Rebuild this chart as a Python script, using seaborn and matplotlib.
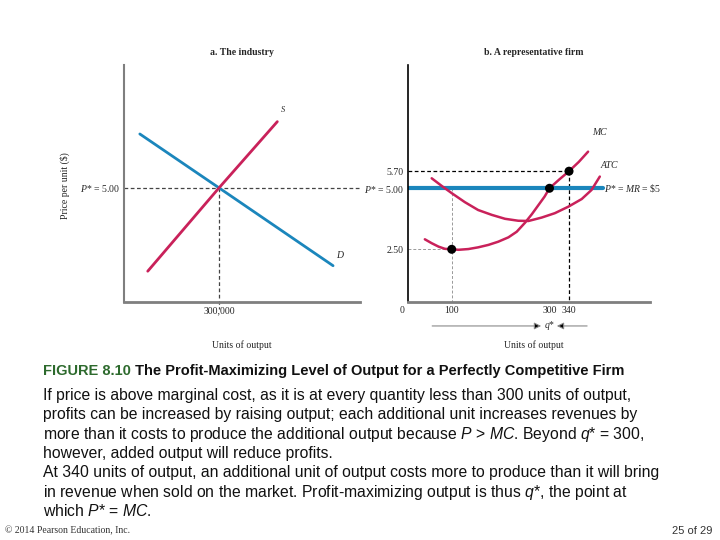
import matplotlib
matplotlib.use("Agg")
import matplotlib.pyplot as plt
from matplotlib import transforms
import seaborn as sns

# panel a: the industry (quantity in thousands of units, price in $)
supply_q = [75, 300, 484]
supply_p = [1.35, 5.00, 7.90]
demand_q = [50, 300, 660]
demand_p = [7.36, 5.00, 1.59]
industry_q = 300
industry_p = 5.00

# panel b: a representative firm
mc_q = [45, 59, 73, 86, 100, 114, 134, 154, 175, 195, 216, 233, 250, 264, 277, 290, 300,
        320, 340, 360, 379]
mc_p = [2.91, 2.75, 2.61, 2.52, 2.50, 2.48, 2.51, 2.58, 2.68, 2.81, 2.99, 3.22, 3.59, 3.94,
        4.30, 4.66, 5.00, 5.36, 5.70, 6.08, 6.50]
atc_q = [59, 80, 100, 127, 154, 182, 209, 236, 257, 284, 311, 339, 366, 386, 403]
atc_p = [5.41, 5.09, 4.80, 4.43, 4.11, 3.91, 3.75, 3.67, 3.66, 3.80, 3.98, 4.25, 4.56, 4.93, 5.48]
firm_q = [100, 300, 340]
firm_p = [2.50, 5.00, 5.70]
mr_q = [10.6, 410]
mr_p = [5.00, 5.00]

body_lines = [
    "If price is above marginal cost, as it is at every quantity less than 300 units of output,",
    "profits can be increased by raising output; each additional unit increases revenues by",
    r"more than it costs to produce the additional output because $\mathsf{P}$ > $\mathsf{MC}$. Beyond $\mathsf{q}$* = 300,",
    "however, added output will reduce profits.",
    "At 340 units of output, an additional unit of output costs more to produce than it will bring",
    r"in revenue when sold on the market. Profit-maximizing output is thus $\mathsf{q}$*, the point at",
    r"which $\mathsf{P}$* = $\mathsf{MC}$.",
]

sns.set_style("white")
plt.rcParams["font.family"] = ["Liberation Serif", "DejaVu Serif"]
plt.rcParams["mathtext.fontset"] = "custom"
plt.rcParams["mathtext.rm"] = "Liberation Serif"
plt.rcParams["mathtext.it"] = "Liberation Serif:italic"
plt.rcParams["mathtext.sf"] = "Liberation Sans:italic"

RED = "#c9215a"
BLUE = "#1b86bc"
AXGRAY = "#7f7f7f"
DASH = (0, (3, 2))

fig = plt.figure(figsize=(7.2, 5.4), dpi=100)
ax_a = fig.add_axes([0.1722, 0.4407, 0.3278, 0.4389])
ax_b = fig.add_axes([0.5667, 0.4407, 0.3361, 0.4389])

for ax in (ax_a, ax_b):
    sns.despine(ax=ax)
    ax.tick_params(length=0, labelsize=7, pad=3)
    ax.spines["bottom"].set_color(AXGRAY)
    ax.spines["bottom"].set_linewidth(2)
ax_a.spines["left"].set_color(AXGRAY)
ax_a.spines["left"].set_linewidth(1.5)
ax_b.spines["left"].set_color("black")
ax_b.spines["left"].set_linewidth(1.2)

# ---- panel a
ax_a.set_xlim(0, 745)
ax_a.set_ylim(0, 10.38)
ax_a.plot([0, 745], [industry_p, industry_p], ls=DASH, color="#444", lw=0.9, clip_on=False)
ax_a.plot([industry_q, industry_q], [industry_p, -0.3], ls=DASH, color="#444", lw=0.9, clip_on=False)
sns.lineplot(x=demand_q, y=demand_p, ax=ax_a, color=BLUE, lw=2, estimator=None)
sns.lineplot(x=supply_q, y=supply_p, ax=ax_a, color=RED, lw=2, estimator=None)
ax_a.set_xticks([industry_q], ["300,000"])
ax_a.set_yticks([industry_p], ["$P$* = 5.00"])
ax_a.text(496, 8.32, "S", fontsize=6, style="italic")
ax_a.text(669, 1.94, "D", fontsize=7, style="italic")
ax_a.text(0.5, 1.051, "a. The industry", transform=ax_a.transAxes, ha="center", va="center",
          fontsize=7, fontweight="bold")
ax_a.text(0.5, -0.181, "Units of output", transform=ax_a.transAxes, ha="center", va="center", fontsize=7)

# ---- panel b
ax_b.set_xlim(10.6, 505.7)
ax_b.set_ylim(0.34, 10.05)
ax_b.plot([10.6, 340], [5.70, 5.70], ls=DASH, color="black", lw=0.9)
ax_b.plot([340, 340], [5.70, 0.34], ls=DASH, color="black", lw=0.9)
ax_b.plot([10.6, 100], [2.50, 2.50], ls=DASH, color="#999", lw=0.7)
ax_b.plot([100, 100], [5.00, 0.34], ls=DASH, color="#999", lw=0.7)
sns.lineplot(x=mr_q, y=mr_p, ax=ax_b, color=BLUE, lw=3, estimator=None)
sns.lineplot(x=atc_q, y=atc_p, ax=ax_b, color=RED, lw=1.8, estimator=None, sort=False)
sns.lineplot(x=mc_q, y=mc_p, ax=ax_b, color=RED, lw=1.8, estimator=None, sort=False)
sns.scatterplot(x=firm_q, y=firm_p, ax=ax_b, color="black", s=42, edgecolor="none", zorder=5)
ax_b.set_xticks(firm_q, ["100", "300", "340"])
ax_b.set_yticks(firm_p, ["2.50", "$P$* = 5.00", "5.70"])
ax_b.text(-0.025, -0.017, "0", transform=ax_b.transAxes, ha="center", va="top", fontsize=7)
ax_b.text(387, 7.18, "MC", fontsize=7, style="italic")
ax_b.text(405, 5.83, "ATC", fontsize=7, style="italic")
ax_b.text(412, 5.0, r"$P$* = $MR$ = \$5", fontsize=7, va="center", clip_on=False)
ax_b.text(0.52, 1.051, "b. A representative firm", transform=ax_b.transAxes, ha="center", va="center",
          fontsize=7, fontweight="bold")
ax_b.text(0.52, -0.181, "Units of output", transform=ax_b.transAxes, ha="center", va="center", fontsize=7)

# q* arrows
trans = transforms.blended_transform_factory(ax_b.transData, ax_b.transAxes)
arrow = dict(arrowstyle="-|>", fc="black", ec="#8a8a8a", lw=0.8, mutation_scale=10, shrinkA=0, shrinkB=0)
ax_b.annotate("", xy=(283, -0.101), xytext=(60, -0.101), xycoords=trans, textcoords=trans,
              arrowprops=arrow, annotation_clip=False)
ax_b.annotate("", xy=(315, -0.101), xytext=(377, -0.101), xycoords=trans, textcoords=trans,
              arrowprops=arrow, annotation_clip=False)
ax_b.text(300, -0.101, "$q$*", transform=trans, ha="center", va="center", fontsize=7)

fig.text(65 / 720, 1 - 186 / 540, "Price per unit ($)", rotation=90, ha="center", va="center", fontsize=7)

# caption and notes
cap = fig.text(43 / 720, 1 - 375 / 540, "FIGURE 8.10", family="Liberation Sans", fontweight="bold",
               fontsize=10.5, color="#2d6a2d", va="baseline")
ax_a.annotate(" The Profit-Maximizing Level of Output for a Perfectly Competitive Firm",
              xy=(1, 0), xycoords=cap, va="bottom", ha="left", family="Liberation Sans",
              fontweight="bold", fontsize=10.5, color="#111111", annotation_clip=False)

for i, line in enumerate(body_lines):
    fig.text(43 / 720, 1 - (400 + 19.3 * i) / 540, line, family="Liberation Sans", fontsize=11.3,
             color="#111111", va="baseline")

fig.text(5 / 720, 1 - 531 / 540, "\u00a9 2014 Pearson Education, Inc.", fontsize=7, color="#333333",
         va="center")
fig.text(712 / 720, 1 - 531 / 540, "25 of 29", family="Liberation Sans", fontsize=8, color="#333333",
         ha="right", va="center")

fig.savefig("out.png", dpi=100)
